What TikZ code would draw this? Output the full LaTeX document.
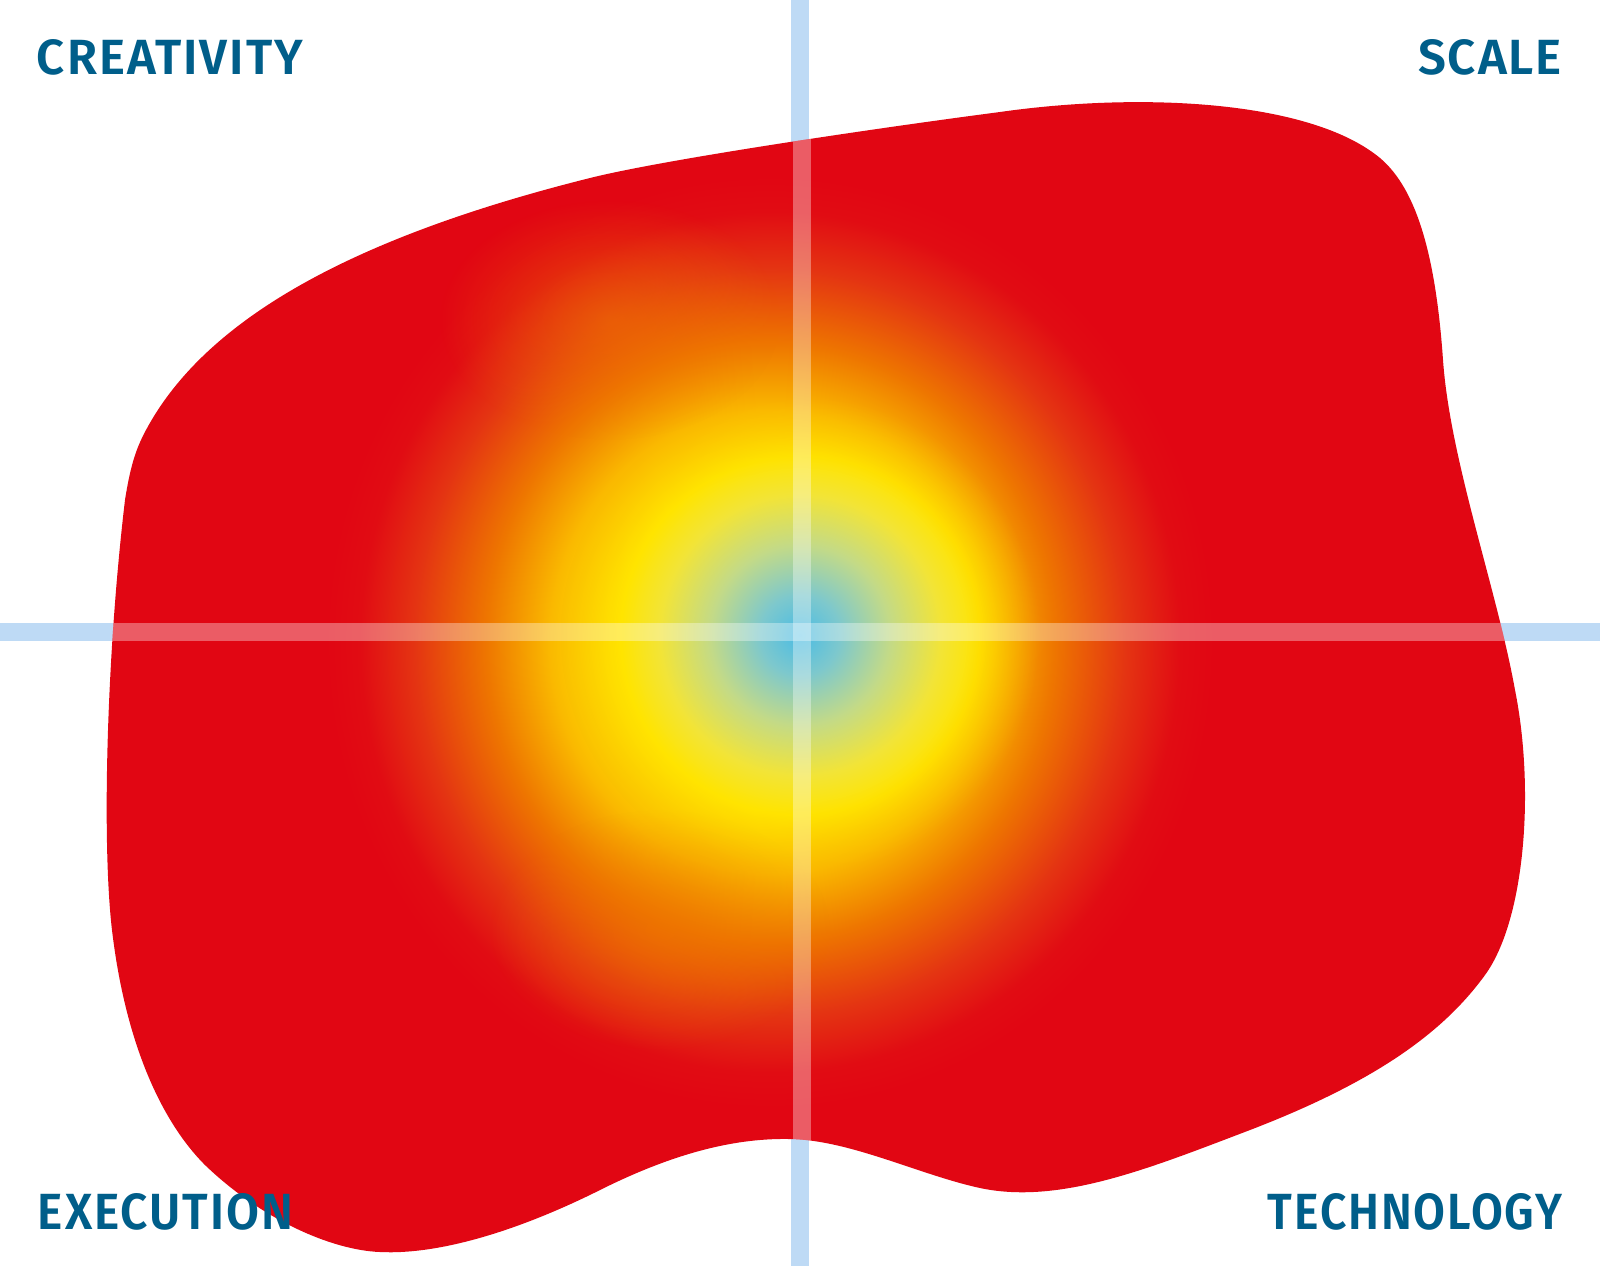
\documentclass[tikz,border=0pt]{standalone}
\usepackage{fontspec}
\setmainfont{Fira Sans}
\newfontfamily\lblfont{Fira Sans}[UprightFont={* SemiBold}, LetterSpace=4]
\usepackage{graphicx}
\usetikzlibrary{fadings}
\definecolor{blobred}{RGB}{225,6,19}
\definecolor{barblue}{RGB}{190,218,245}
\definecolor{labelblue}{RGB}{0,94,138}
\definecolor{g0}{RGB}{75,188,228}
\definecolor{g1}{RGB}{125,200,205}
\definecolor{g2}{RGB}{195,218,135}
\definecolor{g3}{RGB}{242,228,55}
\definecolor{g4}{RGB}{255,228,0}
\definecolor{g5}{RGB}{250,185,0}
\definecolor{g6}{RGB}{238,118,0}
\definecolor{g7}{RGB}{228,52,18}
\definecolor{g8}{RGB}{225,12,19}
% outer glow (natural size, radius in pt = px/2)
\pgfdeclareradialshading{outerglow}{\pgfpointorigin}{%
color(0pt)=(g4); color(80pt)=(g4); color(110pt)=(g5); color(142pt)=(g6);
color(178pt)=(g7); color(205pt)=(g8); color(222pt)=(blobred)}
% inner core (25bp = path radius)
\pgfdeclareradialshading{innercore}{\pgfpointorigin}{%
color(0bp)=(g0); color(3.85bp)=(g1); color(8.65bp)=(g2); color(13.5bp)=(g3);
color(17.3bp)=(g4); color(23bp)=(g5); color(25bp)=(g5); color(50bp)=(g5)}
\pgfdeclareradialshading{innermask}{\pgfpointorigin}{%
color(0bp)=(white); color(16bp)=(white); color(23bp)=(black); color(50bp)=(black)}
\pgfdeclarefading{innerfade}{\pgfuseshading{innermask}}
\pgfdeclareradialshading{softmask}{\pgfpointorigin}{%
color(0bp)=(white); color(25bp)=(black); color(50bp)=(black)}
\pgfdeclarefading{softfade}{\pgfuseshading{softmask}}
\tikzset{
  lbl/.style={text=labelblue, inner sep=0pt, outer sep=0pt, font=\lblfont},
  barfill/.style={fill=barblue},
  overlay/.style={fill=white, fill opacity=0.35},
  lobe/.style={fill=g6, fill opacity=0.55, path fading=softfade}
}
\begin{document}
\begin{tikzpicture}[x=0.5pt, y=-0.5pt]
\useasboundingbox (0,0) rectangle (1600,1266);
\fill[white] (0,0) rectangle (1600,1266);
% axis bars
\fill[barfill] (791,0) rectangle (809,1266);
\fill[barfill] (0,623) rectangle (1600,641);
% blob
\begin{scope}
\clip (146,430)
  .. controls (205,320) and (350,238) .. (590,178)
  .. controls (670,158) and (900,125) .. (1000,112)
  .. controls (1140,92) and (1310,100) .. (1380,158)
  .. controls (1418,190) and (1436,260) .. (1443,360)
  .. controls (1450,460) and (1497,590) .. (1515,690)
  .. controls (1535,790) and (1525,920) .. (1485,975)
  .. controls (1445,1030) and (1380,1080) .. (1250,1130)
  .. controls (1150,1168) and (1060,1205) .. (980,1188)
  .. controls (920,1175) and (850,1140) .. (790,1139)
  .. controls (740,1138) and (680,1150) .. (600,1190)
  .. controls (520,1230) and (440,1255) .. (380,1252)
  .. controls (330,1250) and (260,1218) .. (205,1165)
  .. controls (160,1120) and (125,1040) .. (112,930)
  .. controls (102,845) and (106,660) .. (125,500)
  .. controls (131,462) and (137,447) .. (146,430) -- cycle;
\fill[blobred] (0,0) rectangle (1600,1266);
\begin{scope}[shift={(770,642)}, yscale=1.05]
\node[inner sep=0pt, outer sep=0pt, transform shape] (outer) at (0,0) {\pgfuseshading{outerglow}};
\end{scope}
\fill[lobe] (610,320) ellipse[x radius=170, y radius=120];
\fill[lobe] (660,930) ellipse[x radius=170, y radius=120];
\shade[shading=innercore, path fading=innerfade] (800,635) circle[radius=260];
\fill[overlay] (793,0) rectangle (811,1266);
\fill[overlay] (0,623) rectangle (1600,641);
\end{scope}
% labels
\node[lbl, anchor=base west] (creativity) at (37,74) {\resizebox{133pt}{17.5pt}{CREATIVITY}};
\node[lbl, anchor=base east] (scale) at (1562,74) {\resizebox{72pt}{17.5pt}{SCALE}};
\node[lbl, anchor=base west] (execution) at (38,1229) {\resizebox{127.5pt}{18pt}{EXECUTION}};
\node[lbl, anchor=base east] (technology) at (1562,1229) {\resizebox{147pt}{18pt}{TECHNOLOGY}};
\end{tikzpicture}
\end{document}
